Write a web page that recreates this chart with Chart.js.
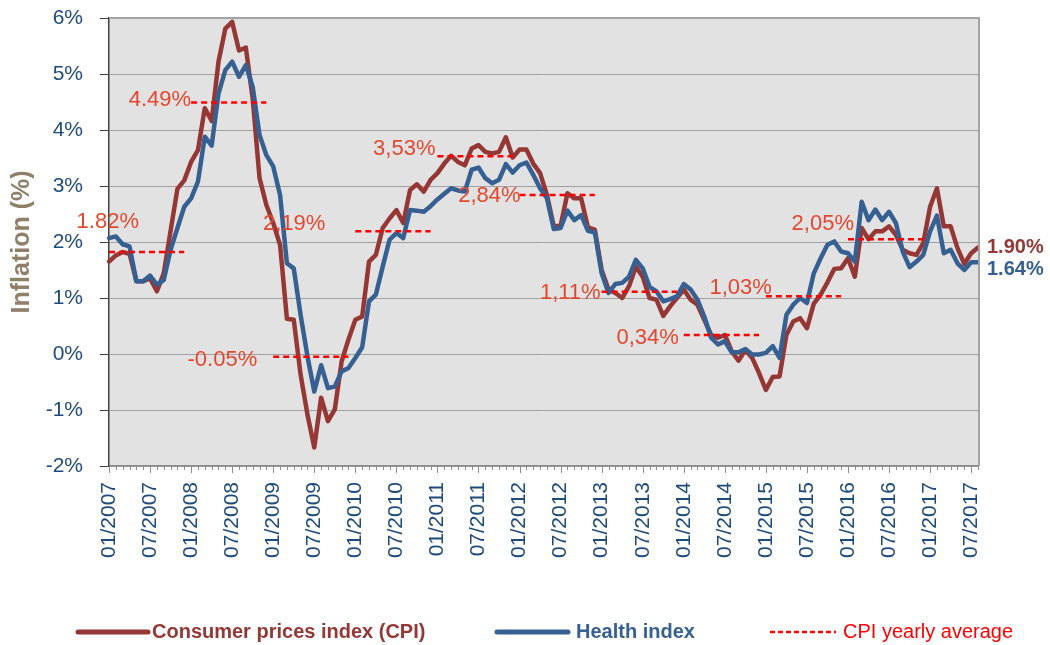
<!DOCTYPE html>
<html>
<head>
<meta charset="utf-8">
<script src="https://cdn.jsdelivr.net/npm/chart.js@4.4.1/dist/chart.umd.min.js"></script>
<style>
html,body{margin:0;padding:0;background:#ffffff;}
#wrap{width:1050px;height:645px;position:relative;}
</style>
</head>
<body>
<div id="wrap"><canvas id="c" width="1050" height="645"></canvas></div>
<script>
// ---------- DATA ----------
const startYear = 2007;
const monthCount = 128; // 01/2007 .. 08/2017
const months = [];
for (let i = 0; i < monthCount; i++) {
  const y = startYear + Math.floor(i / 12), m = (i % 12) + 1;
  months.push(String(m).padStart(2, '0') + '/' + y);
}

const cpi = [
  1.65, 1.76, 1.82, 1.79, 1.30, 1.30, 1.35, 1.12, 1.44, 2.20, 2.95, 3.10,
  3.43, 3.64, 4.39, 4.16, 5.22, 5.81, 5.93, 5.42, 5.47, 4.56, 3.14, 2.66,
  2.34, 1.95, 0.63, 0.61, -0.37, -1.08, -1.67, -0.78, -1.20, -0.99, -0.13, 0.26,
  0.61, 0.67, 1.65, 1.77, 2.25, 2.42, 2.57, 2.34, 2.93, 3.03, 2.90, 3.11,
  3.23, 3.40, 3.54, 3.43, 3.37, 3.67, 3.73, 3.61, 3.58, 3.61, 3.87, 3.51,
  3.65, 3.65, 3.40, 3.23, 2.84, 2.28, 2.29, 2.87, 2.78, 2.78, 2.26, 2.22,
  1.50, 1.15, 1.09, 1.00, 1.21, 1.56, 1.38, 1.00, 0.97, 0.68, 0.85, 1.00,
  1.15, 0.97, 0.88, 0.61, 0.34, 0.29, 0.34, 0.05, -0.12, 0.07, -0.07, -0.34,
  -0.64, -0.41, -0.40, 0.34, 0.58, 0.64, 0.46, 0.90, 1.06, 1.28, 1.52, 1.53,
  1.71, 1.38, 2.25, 2.05, 2.19, 2.19, 2.28, 2.13, 1.86, 1.80, 1.77, 1.98,
  2.63, 2.96, 2.28, 2.28, 1.89, 1.61, 1.80, 1.90
];

const health = [
  2.07, 2.10, 1.96, 1.92, 1.30, 1.30, 1.40, 1.24, 1.32, 1.86, 2.25, 2.63,
  2.78, 3.08, 3.88, 3.72, 4.65, 5.07, 5.22, 4.95, 5.16, 4.77, 3.91, 3.55,
  3.35, 2.84, 1.62, 1.53, 0.70, -0.04, -0.67, -0.20, -0.61, -0.58, -0.31, -0.25,
  -0.07, 0.12, 0.94, 1.06, 1.56, 2.04, 2.16, 2.07, 2.57, 2.56, 2.54, 2.64,
  2.76, 2.86, 2.96, 2.92, 2.90, 3.29, 3.33, 3.14, 3.05, 3.11, 3.39, 3.24,
  3.37, 3.42, 3.20, 2.96, 2.78, 2.23, 2.25, 2.56, 2.39, 2.48, 2.20, 2.17,
  1.44, 1.09, 1.25, 1.27, 1.38, 1.68, 1.53, 1.20, 1.12, 0.94, 0.98, 1.03,
  1.25, 1.15, 0.97, 0.67, 0.29, 0.17, 0.23, 0.03, 0.03, 0.09, -0.01, -0.01,
  0.02, 0.14, -0.07, 0.70, 0.88, 1.00, 0.91, 1.44, 1.71, 1.95, 2.01, 1.83,
  1.80, 1.65, 2.72, 2.39, 2.58, 2.39, 2.54, 2.34, 1.83, 1.55, 1.65, 1.77,
  2.19, 2.47, 1.80, 1.86, 1.62, 1.50, 1.64, 1.64
];

const avgYears  = [2007, 2008, 2009, 2010, 2011, 2012, 2013, 2014, 2015, 2016];
const avgValues = [1.82, 4.49, -0.05, 2.19, 3.53, 2.84, 1.11, 0.34, 1.03, 2.05];
const avgLabels = ['1.82%', '4.49%', '-0.05%', '2,19%', '3,53%', '2,84%', '1,11%', '0,34%', '1,03%', '2,05%'];

// ---------- STYLE / LAYOUT (not data) ----------
const FONT = "'Liberation Sans', Arial, Helvetica, sans-serif";
const RED = '#953735', BLUE = '#376092', AVG = '#ff0000', AVGTXT = '#e4472f', NAVY = '#1f4a7c';
// label offsets relative to the start of each yearly segment: [dx, dy]
const avgLabelOffsets = [[30, -30], [0, -3], [-16, 3], [-30, -7], [-2, -7], [1, 1], [-1, 1], [-5, 3], [6, -8], [6, -15]];

Chart.defaults.font.family = FONT;

const avgDatasets = avgYears.map((yr, k) => ({
  label: 'CPI yearly average',
  data: [{x: '01/' + yr, y: avgValues[k]}, {x: '12/' + yr, y: avgValues[k]}],
  borderColor: AVG,
  borderWidth: 2.5,
  borderDash: [6, 4],
  pointRadius: 0,
  fill: false,
  order: 0
}));

const deco = {
  id: 'deco',
  beforeDraw(chart) {
    const {ctx, chartArea: a} = chart;
    ctx.save();
    ctx.fillStyle = '#e2e2e2';
    ctx.fillRect(a.left, a.top, a.right - a.left, a.bottom - a.top);
    ctx.restore();
  },
  afterDatasetsDraw(chart) {
    const {ctx, chartArea: a} = chart;
    const xs = chart.scales.x, ys = chart.scales.y;
    ctx.save();
    // top and right frame
    ctx.strokeStyle = '#a3a3a3';
    ctx.lineWidth = 2;
    ctx.beginPath();
    ctx.moveTo(a.left, a.top);
    ctx.lineTo(a.right + 1, a.top);
    ctx.lineTo(a.right + 1, a.bottom);
    ctx.stroke();
    // x tick marks
    ctx.strokeStyle = '#8c8c8c';
    ctx.lineWidth = 1;
    for (let i = 0; i < months.length; i++) {
      const x = Math.round(xs.getPixelForValue(i)) + 0.5;
      const len = (i % 6 === 0) ? 7 : 4;
      ctx.beginPath();
      ctx.moveTo(x, a.bottom);
      ctx.lineTo(x, a.bottom + len);
      ctx.stroke();
    }
    // yearly average labels
    ctx.font = '22px ' + FONT;
    ctx.fillStyle = AVGTXT;
    ctx.textAlign = 'right';
    ctx.textBaseline = 'middle';
    avgYears.forEach((yr, k) => {
      const xStart = xs.getPixelForValue(months.indexOf('01/' + yr));
      const y = ys.getPixelForValue(avgValues[k]);
      ctx.fillText(avgLabels[k], xStart + avgLabelOffsets[k][0], y + avgLabelOffsets[k][1]);
    });
    // end labels
    const last = months.length - 1;
    ctx.font = 'bold 20px ' + FONT;
    ctx.textAlign = 'left';
    ctx.fillStyle = RED;
    ctx.fillText(cpi[last].toFixed(2) + '%', a.right + 9, ys.getPixelForValue(cpi[last]));
    ctx.fillStyle = BLUE;
    ctx.fillText(health[last].toFixed(2) + '%', a.right + 9, ys.getPixelForValue(health[last]) + 7);
    ctx.restore();
  },
  afterDraw(chart) {
    const {ctx} = chart;
    const ly = 632;
    const items = [
      {text: 'Consumer prices index (CPI)', color: RED, x1: 78, x2: 148, tx: 152, bold: true, w: 5, dash: []},
      {text: 'Health index', color: BLUE, x1: 497, x2: 568, tx: 576, bold: true, w: 5, dash: []},
      {text: 'CPI yearly average', color: AVG, x1: 770, x2: 836, tx: 843, bold: false, w: 2.5, dash: [5, 3]}
    ];
    ctx.save();
    items.forEach(it => {
      ctx.strokeStyle = it.color;
      ctx.lineWidth = it.w;
      ctx.setLineDash(it.dash);
      ctx.lineCap = it.dash.length ? 'butt' : 'round';
      ctx.beginPath();
      ctx.moveTo(it.x1, ly);
      ctx.lineTo(it.x2, ly);
      ctx.stroke();
      ctx.setLineDash([]);
      ctx.font = (it.bold ? 'bold ' : '') + '20px ' + FONT;
      ctx.fillStyle = it.color;
      ctx.textAlign = 'left';
      ctx.textBaseline = 'middle';
      ctx.fillText(it.text, it.tx, ly);
    });
    ctx.restore();
  }
};

new Chart(document.getElementById('c').getContext('2d'), {
  type: 'line',
  data: {
    labels: months,
    datasets: [
      ...avgDatasets,
      {label: 'Health index', data: health, borderColor: BLUE, borderWidth: 4.5, pointRadius: 0, borderJoinStyle: 'round', borderCapStyle: 'round', order: 1},
      {label: 'Consumer prices index (CPI)', data: cpi, borderColor: RED, borderWidth: 4.5, pointRadius: 0, borderJoinStyle: 'round', borderCapStyle: 'round', order: 2}
    ]
  },
  options: {
    responsive: false,
    animation: false,
    devicePixelRatio: 1,
    layout: {padding: {left: 0, right: 72, top: 18, bottom: 59}},
    plugins: {legend: {display: false}, tooltip: {enabled: false}},
    elements: {line: {tension: 0}, point: {radius: 0}},
    scales: {
      x: {
        type: 'category',
        offset: false,
        grid: {display: true, drawOnChartArea: false, drawTicks: false},
        border: {color: '#8c8c8c', width: 1.5},
        ticks: {
          autoSkip: false, maxRotation: 90, minRotation: 90, padding: 16,
          color: NAVY, font: {size: 21},
          callback: function (v) {
            const l = this.getLabelForValue(v);
            return (l.startsWith('01/') || l.startsWith('07/')) ? l : '';
          }
        },
        afterFit(s) { s.height = 120; s.paddingLeft = 0; s.paddingRight = 0; s.paddingTop = 0; s.paddingBottom = 0; }
      },
      y: {
        min: -2, max: 6,
        ticks: {stepSize: 1, padding: 17, color: NAVY, font: {size: 21}, callback: v => v + '%'},
        grid: {color: '#a0a0a0', lineWidth: 1, tickLength: 9, tickColor: '#404040'},
        border: {color: '#404040', width: 1.5},
        title: {display: true, text: 'Inflation (%)', color: '#8f806a', font: {size: 25, weight: 'bold'}, padding: {top: 7, bottom: 0}},
        afterFit(s) { s.width = 109; s.paddingTop = 0; s.paddingBottom = 0; s.paddingLeft = 0; s.paddingRight = 0; }
      }
    }
  },
  plugins: [deco]
});
</script>
</body>
</html>
